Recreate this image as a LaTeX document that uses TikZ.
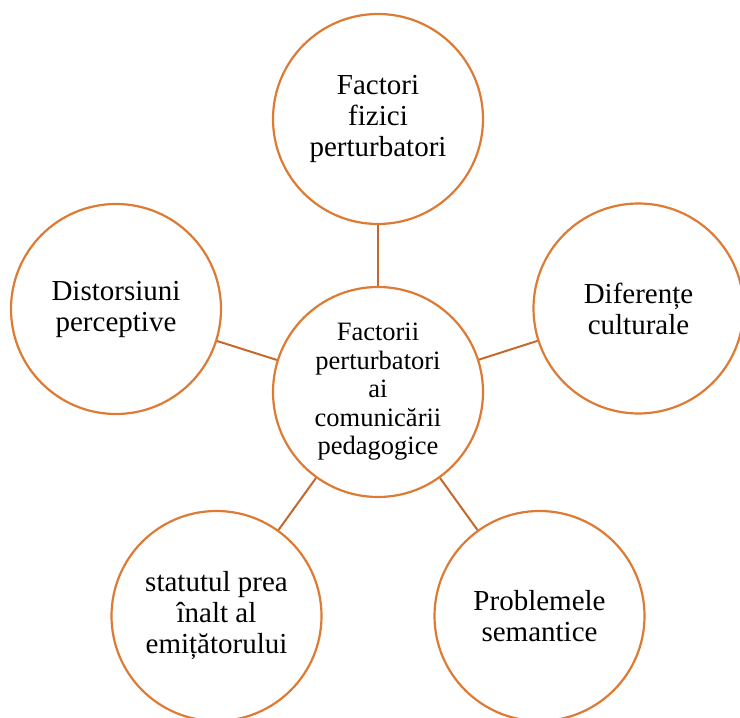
\documentclass[tikz,border=0pt]{standalone}
\usepackage{fontspec}
\setmainfont{Liberation Serif}
\definecolor{circorange}{RGB}{221,122,52}
\definecolor{linkbrown}{RGB}{196,104,44}
\newcommand{\circfont}{\fontsize{29bp}{31bp}\selectfont}
\newcommand{\hubfont}{\fontsize{26.5bp}{28.5bp}\selectfont}
\begin{document}
\begin{tikzpicture}[line join=bevel,circ/.style={circle,draw=circorange,line width=2.2bp,minimum size=210bp,inner sep=0pt,align=center,font=\circfont},link/.style={draw=linkbrown,line width=2bp}]
%%
\useasboundingbox (0bp,0bp) rectangle (740bp,718bp);
\node (node_0) at (378bp,326bp) [circ,font=\hubfont] {Factorii\\perturbatori\\ai\\comunicării\\pedagogice};
  \node (node_1) at (378bp,599bp) [circ] {Factori\\fizici\\perturbatori};
  \node (node_2) at (638.5bp,409.5bp) [circ] {Diferențe\\culturale};
  \node (node_3) at (539.5bp,102bp) [circ] {Problemele\\semantice};
  \node (node_4) at (216.5bp,102bp) [circ] {statutul prea\\înalt al\\emițătorului};
  \node (node_5) at (116bp,409bp) [circ] {Distorsiuni\\perceptive};
  \draw [link] (node_0) -- (node_1);
  \draw [link] (node_0) -- (node_2);
  \draw [link] (node_0) -- (node_3);
  \draw [link] (node_0) -- (node_4);
  \draw [link] (node_0) -- (node_5);
%
\end{tikzpicture}
\end{document}
